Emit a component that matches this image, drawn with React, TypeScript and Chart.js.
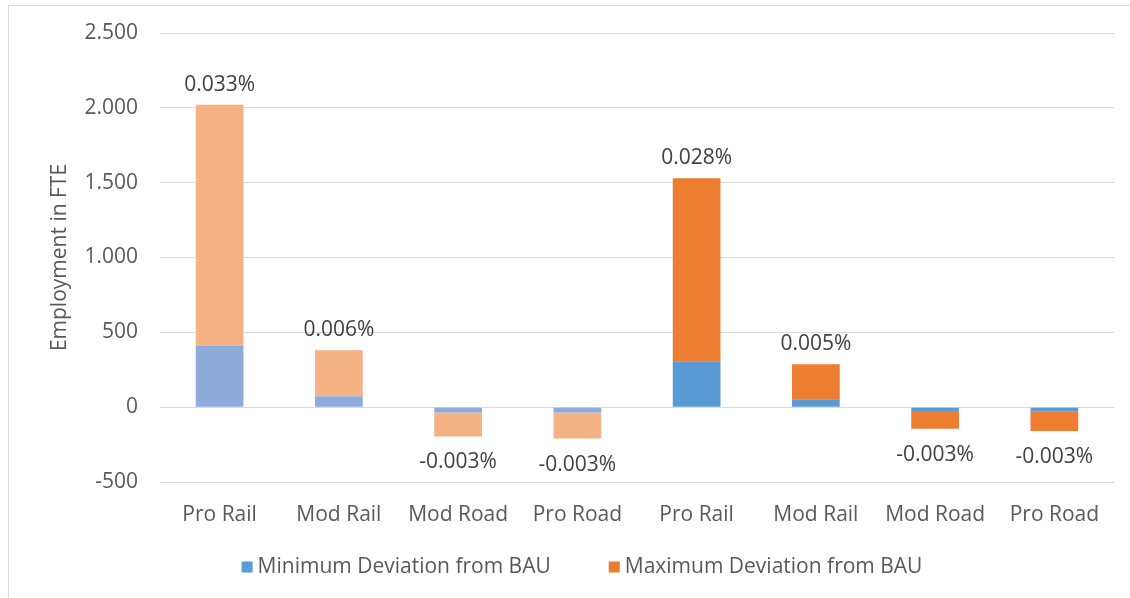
import React, { useEffect, useRef } from "react";
import { Chart, registerables } from "chart.js";

Chart.register(...registerables);

const categories = ["Pro Rail", "Mod Rail", "Mod Road", "Pro Road", "Pro Rail", "Mod Rail", "Mod Road", "Pro Road"];
const minDeviation = [410, 73, -35, -35, 307, 53, -25, -30];
const maxDeviation = [2020, 381, -196, -210, 1530, 287, -145, -160];
const percentLabels = ["0.033%", "0.006%", "-0.003%", "-0.003%", "0.028%", "0.005%", "-0.003%", "-0.003%"];
const yTicks = [-500, 0, 500, 1000, 1500, 2000, 2500];
const legendLabels = ["Minimum Deviation from BAU", "Maximum Deviation from BAU"];

const BLUE = "#5B9BD5";
const ORANGE = "#ED7D31";
const BLUE_LIGHT = "#8FAADC";
const ORANGE_LIGHT = "#F4B183";
const TEXT = "#595959";
const FONT = "'Open Sans', sans-serif";

function fmt(v: number): string {
  const s = Math.abs(v).toString().replace(/\B(?=(\d{3})+(?!\d))/g, ".");
  return (v < 0 ? "-" : "") + s;
}

const labelPlugin = {
  id: "pctLabels",
  afterDatasetsDraw(chart: any) {
    const ctx = chart.ctx;
    const meta = chart.getDatasetMeta(1);
    ctx.save();
    ctx.font = `21px ${FONT}`;
    ctx.fillStyle = "#404040";
    ctx.textAlign = "center";
    ctx.textBaseline = "middle";
    meta.data.forEach((el: any, i: number) => {
      const v = maxDeviation[i];
      const y = v >= 0 ? el.y - 20 : el.y + 26;
      ctx.fillText(percentLabels[i], el.x, y);
    });
    ctx.restore();
  },
};

const legendPlugin = {
  id: "customLegend",
  afterDraw(chart: any) {
    const ctx = chart.ctx;
    ctx.save();
    ctx.font = `21px ${FONT}`;
    ctx.textBaseline = "middle";
    ctx.textAlign = "left";
    const colors = [BLUE, ORANGE];
    const box = 11;
    const gapBox = 5;
    const gapItem = 58;
    const widths = legendLabels.map((t) => ctx.measureText(t).width);
    const total = widths.reduce((a, w) => a + box + gapBox + w, 0) + gapItem * (legendLabels.length - 1);
    let x = 573 - total / 2;
    const y = 561;
    legendLabels.forEach((t, i) => {
      ctx.fillStyle = colors[i];
      ctx.fillRect(x, y - box / 2, box, box);
      x += box + gapBox;
      ctx.fillStyle = TEXT;
      ctx.fillText(t, x, y);
      x += widths[i] + gapItem;
    });
    ctx.restore();
  },
};

export default function App() {
  const ref = useRef<HTMLCanvasElement>(null);
  useEffect(() => {
    if (!ref.current) return;
    const chart = new Chart(ref.current, {
      type: "bar",
      data: {
        labels: categories,
        datasets: [
          {
            label: legendLabels[0],
            data: minDeviation,
            backgroundColor: categories.map((_, i) => (i < 4 ? BLUE_LIGHT : BLUE)),
            categoryPercentage: 1,
            barPercentage: 0.4,
          },
          {
            label: legendLabels[1],
            data: maxDeviation.map((v, i) => v - minDeviation[i]),
            backgroundColor: categories.map((_, i) => (i < 4 ? ORANGE_LIGHT : ORANGE)),
            categoryPercentage: 1,
            barPercentage: 0.4,
          },
        ],
      },
      options: {
        animation: false,
        responsive: false,
        maintainAspectRatio: false,
        layout: { padding: { top: 27, right: 16, bottom: 0, left: 0 } },
        scales: {
          x: {
            stacked: true,
            grid: { display: false, drawTicks: false },
            border: { display: false },
            ticks: { color: TEXT, font: { family: FONT, size: 21 }, padding: 20, maxRotation: 0 },
            afterFit: (s: any) => {
              s.height = 116;
              s.paddingLeft = 0;
              s.paddingRight = 0;
            },
          },
          y: {
            stacked: true,
            min: -500,
            max: 2500,
            afterBuildTicks: (s: any) => {
              s.ticks = yTicks.map((v) => ({ value: v }));
            },
            grid: { color: "#D9D9D9", lineWidth: 1, drawTicks: false },
            border: { display: false },
            ticks: {
              color: TEXT,
              font: { family: FONT, size: 21 },
              padding: 22,
              callback: (v: any) => fmt(Number(v)),
            },
            title: {
              display: true,
              text: "Employment in FTE",
              color: TEXT,
              font: { family: FONT, size: 21 },
              padding: { top: 38, bottom: 0 },
            },
            afterFit: (s: any) => {
              s.width = 151;
              s.paddingTop = 0;
              s.paddingBottom = 0;
            },
          },
        },
        plugins: {
          legend: { display: false },
          tooltip: { enabled: false },
        },
      },
      plugins: [labelPlugin, legendPlugin],
    } as any);
    return () => chart.destroy();
  }, []);

  return (
    <div
      style={{
        position: "absolute",
        left: 8,
        top: 5,
        width: 1122,
        height: 593,
        borderLeft: "1px solid #D9D9D9",
        borderTop: "1px solid #D9D9D9",
        boxSizing: "border-box",
        background: "#fff",
      }}
    >
      <canvas ref={ref} width={1121} height={592} style={{ display: "block" }} />
    </div>
  );
}
